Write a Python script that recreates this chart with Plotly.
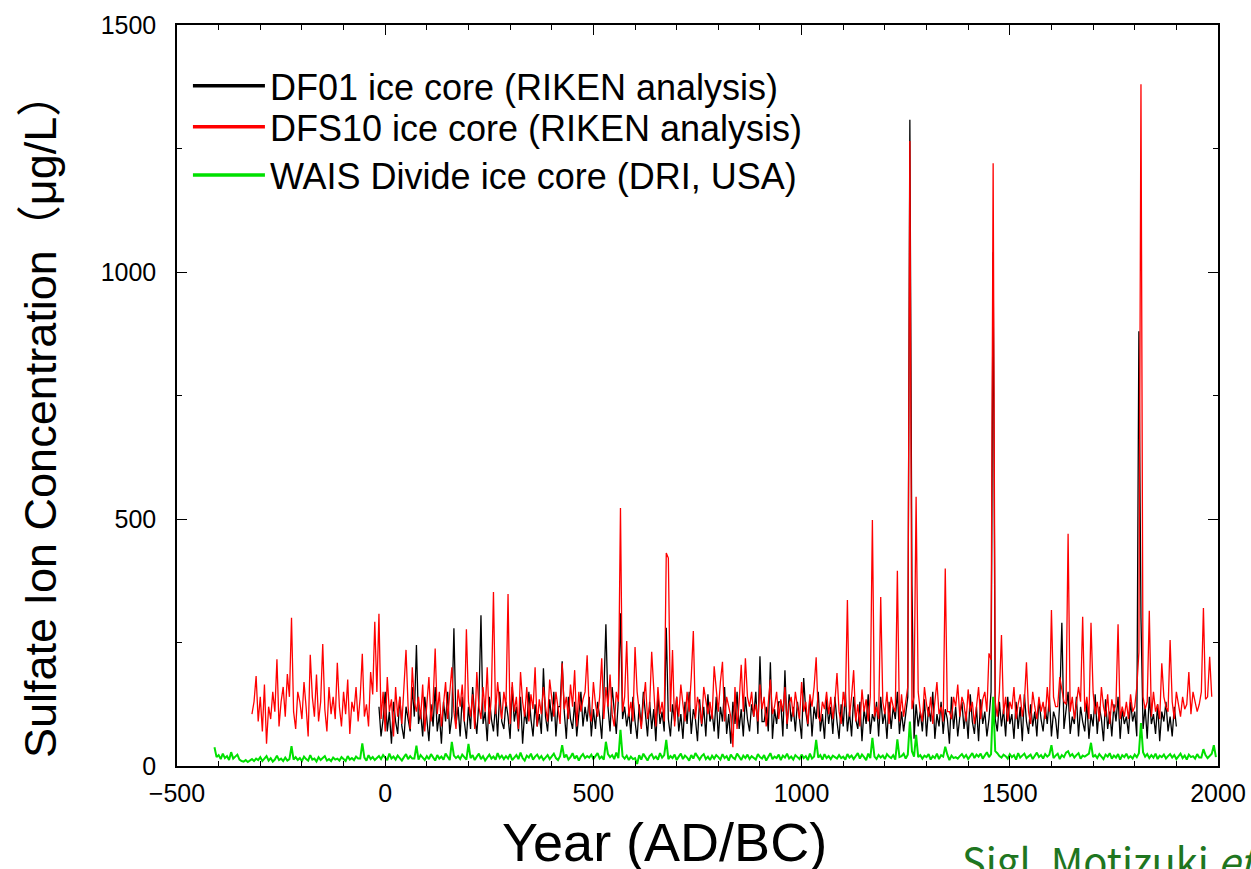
import plotly.graph_objects as go

# ---------------- data ----------------
# DFS10 ice core (RIKEN), 5-year steps starting at -320
dfs10_start = -320
dfs10_vals = [
    105,130,182,90,140,70,165,45,120,95,150,110,216,80,130,160,100,186,140,300,
    110,75,150,130,95,170,120,60,225,140,100,185,90,130,247,115,70,160,105,140,
    95,209,120,80,150,105,175,65,130,110,160,90,140,227,100,125,80,190,145,292,
    150,308,95,150,70,180,110,135,60,160,100,140,85,170,235,120,75,200,130,110,
    140,95,165,70,120,180,90,130,238,105,150,80,125,170,95,140,200,110,75,155,
    120,165,90,277,130,100,145,75,190,120,95,160,110,200,85,140,352,105,170,125,
    95,150,120,348,85,170,110,140,75,190,130,100,160,90,145,115,200,80,135,105,
    160,120,90,175,130,100,150,120,85,208,115,140,95,165,120,194,80,150,110,135,
    150,224,110,90,170,125,100,140,218,95,160,120,185,105,80,150,130,522,110,140,
    253,100,130,90,241,150,110,75,130,170,95,120,231,140,80,160,105,130,90,431,
    421,110,235,80,140,100,165,125,90,150,110,180,273,95,140,120,85,160,130,105,
    130,95,202,150,110,170,211,90,140,120,100,38,160,75,130,205,110,218,140,120,
    150,100,125,90,165,115,140,80,130,175,105,120,150,95,135,110,160,85,125,140,
    100,150,120,95,170,110,130,85,145,120,160,220,100,90,130,115,150,105,140,95,
    130,188,110,85,150,120,336,100,140,194,90,125,80,155,110,135,90,140,498,100,
    120,95,342,130,105,150,85,140,120,110,395,90,145,100,130,160,1265,115,140,545,
    150,110,90,160,125,100,140,85,130,170,105,120,90,400,110,110,95,140,120,165,
    100,140,125,90,155,110,130,85,120,160,95,135,150,110,228,215,1220,130,100,150,
    265,105,140,90,130,115,160,95,125,145,100,130,210,110,85,150,120,95,140,110,
    130,95,160,110,316,140,120,120,180,150,130,125,470,110,140,95,130,160,130,302,
    110,140,95,290,150,105,130,90,160,120,100,145,85,135,110,125,287,95,120,100,
    130,95,145,110,120,160,230,1380,140,115,130,314,100,150,110,125,95,208,140,120,
    110,255,130,95,150,120,100,140,115,125,190,105,150,130,110,125,150,320,135,140,221,140,
]

# DF01 ice core (RIKEN), 5-year steps starting at -15
df01_start = -15
df01_vals = [
    120,60,95,150,70,110,45,130,90,65,140,80,55,120,95,70,160,100,245,85,
    110,60,140,95,50,125,80,160,70,105,45,130,90,150,65,100,279,85,120,60,
    140,90,55,120,75,160,100,65,130,305,85,110,50,140,95,70,125,60,150,90,
    75,130,100,55,160,90,120,70,140,45,110,85,150,95,60,125,80,105,65,198,
    100,70,135,90,150,60,120,120,212,110,55,140,95,75,130,60,105,150,80,120,
    90,140,60,115,75,130,100,55,145,287,120,70,160,110,65,135,309,95,120,80,
    110,65,140,90,55,125,80,150,100,60,130,75,115,50,145,85,110,70,280,95,
    60,125,90,140,70,105,55,130,85,150,65,115,95,50,135,80,120,60,145,90,
    110,70,140,55,120,90,160,65,105,45,130,85,150,75,115,60,140,95,70,125,
    100,150,65,222,90,90,120,70,210,55,115,85,130,130,60,194,75,145,90,120,
    70,130,95,55,178,110,80,140,60,120,95,150,70,105,55,135,85,120,65,140,
    90,55,125,80,150,70,110,60,140,95,75,130,50,115,85,145,65,105,90,130,
    60,140,85,110,55,130,75,120,95,150,65,110,70,100,140,1308,368,55,125,80,
    110,70,135,60,120,90,150,55,105,80,130,65,115,95,45,140,75,120,60,100,
    130,75,110,55,145,90,65,120,50,135,85,110,60,95,150,1040,95,70,130,80,
    115,60,140,85,105,55,130,75,120,50,145,90,65,125,80,110,60,135,95,70,
    120,85,140,60,110,95,55,130,290,75,115,150,65,100,85,140,60,120,90,70,
    130,55,105,80,145,65,120,95,50,135,75,110,60,125,90,140,55,115,85,100,
    65,130,90,110,60,880,300,75,120,55,140,85,105,65,125,50,110,90,130,70,
    100,60,120,80,
]

# WAIS Divide ice core (DRI, USA), 5-year steps starting at -410
wais_start = -410
wais_vals = [
    38,18,22,14,25,16,20,12,28,15,19,23,13,10,9,12,8,11,14,10,
    15,12,18,10,14,20,11,16,9,13,21,12,15,10,17,11,14,40,13,18,
    12,16,10,19,14,11,22,13,15,9,18,12,16,20,11,14,10,17,13,15,
    11,18,14,10,20,13,16,12,19,15,15,46,17,11,22,14,18,12,16,20,
    14,22,17,12,25,15,19,13,21,16,11,18,24,14,20,15,15,41,13,22,
    16,12,20,14,24,18,11,22,15,19,13,25,17,12,49,21,16,20,14,23,
    18,13,45,16,22,12,19,25,14,20,11,17,23,15,19,13,26,16,21,14,
    20,15,24,12,18,22,14,27,16,11,21,17,25,13,19,23,15,20,12,18,
    22,14,19,25,16,12,20,42,17,23,13,18,26,15,21,11,19,24,16,20,
    17,23,14,20,26,15,19,13,49,24,18,22,14,27,16,73,20,15,21,12,
    19,14,16,4,22,13,25,18,11,20,24,15,19,13,26,17,22,53,14,20,
    16,23,12,19,25,14,21,17,11,22,15,26,18,13,20,24,14,19,12,21,
    15,22,18,13,24,16,20,11,23,17,14,25,19,12,21,16,23,14,20,17,
    13,24,18,15,22,11,20,26,14,19,16,23,12,21,17,25,15,19,13,22,
    18,14,23,16,20,12,25,15,19,53,17,22,13,24,16,20,14,21,18,15,
    22,16,19,13,24,17,21,14,20,26,15,23,18,12,25,16,57,19,14,22,
    17,21,14,24,19,16,22,13,54,18,20,25,15,23,90,30,19,63,18,22,
    15,21,18,24,13,20,16,25,14,22,19,39,23,12,21,16,18,15,20,24,
    17,22,14,20,26,16,23,19,25,15,21,28,18,24,140,30,26,20,17,23,
    20,15,24,18,22,13,26,17,21,25,16,19,23,14,20,27,18,22,15,24,
    19,23,42,16,21,25,14,22,18,27,30,20,24,17,22,26,15,21,19,23,
    25,47,18,22,16,24,20,14,23,19,26,15,21,17,24,13,22,18,25,16,
    20,15,23,18,26,87,28,19,24,16,22,17,25,14,21,18,23,15,20,24,
    17,22,14,19,25,16,21,13,23,18,20,15,24,17,17,34,22,16,20,25,
    42,18,
]

series_names = ["DF01 ice core (RIKEN analysis)",
                "DFS10 ice core (RIKEN analysis)",
                "WAIS Divide ice core (DRI, USA)"]
series_colors = ["#000000", "#ff0000", "#00e000"]
series_widths = [1.3, 1.3, 2.0]
x_tickvals = [-500, 0, 500, 1000, 1500, 2000]
y_tickvals = [0, 500, 1000, 1500]
x_title = "Year (AD/BC)"
y_title = "Sulfate Ion Concentration\uff08\u03bcg/L\uff09"
credit = "Sigl, Motizuki <i>et al.</i>"


def years(start, vals, step=5):
    return [start + step * i for i in range(len(vals))]


FONT = "Liberation Sans, Arial, Helvetica, sans-serif"

fig = go.Figure()
data = [(df01_start, df01_vals), (dfs10_start, dfs10_vals), (wais_start, wais_vals)]
for (start, vals), name, col, w in zip(data, series_names, series_colors, series_widths):
    fig.add_trace(go.Scatter(x=years(start, vals), y=vals, mode="lines",
                             line=dict(color=col, width=w), name=name,
                             showlegend=False, hoverinfo="x+y"))

# legend entries (one legend per row, thicker sample lines)
legend_ids = ["legend", "legend2", "legend3"]
legend_rows_y = [0.918, 0.8625, 0.7975]
for name, col, lid in zip(series_names, series_colors, legend_ids):
    fig.add_trace(go.Scatter(x=[None], y=[None], mode="lines",
                             line=dict(color=col, width=3.5), name=name,
                             showlegend=True, legend=lid))

axis_common = dict(showline=True, linecolor="black", linewidth=1.5, mirror="ticks",
                   ticks="inside", ticklen=10, tickwidth=1.2, tickcolor="black",
                   showgrid=False, zeroline=False, automargin=False,
                   tickfont=dict(family=FONT, size=25, color="black"))

fig.update_xaxes(range=[-500, 2000], tickmode="array", tickvals=x_tickvals,
                 minor=dict(dtick=100, tick0=0, ticks="inside", ticklen=5,
                            tickcolor="black", tickwidth=1.2, showgrid=False),
                 ticklabelstandoff=4, **axis_common)
fig.update_yaxes(range=[0, 1500], tickmode="array", tickvals=y_tickvals,
                 minor=dict(dtick=250, tick0=0, ticks="inside", ticklen=5,
                            tickcolor="black", tickwidth=1.2, showgrid=False),
                 ticklabelstandoff=14, **axis_common)

legend_style = dict(xanchor="left", yanchor="middle", bgcolor="rgba(0,0,0,0)",
                    borderwidth=0, itemwidth=72,
                    font=dict(family=FONT, size=36, color="black"))
legends = {lid: dict(x=0.0105, y=ly, **legend_style)
           for lid, ly in zip(legend_ids, legend_rows_y)}

fig.update_layout(
    width=1251, height=869,
    margin=dict(l=177, r=33, t=25, b=103, pad=0, autoexpand=False),
    paper_bgcolor="white", plot_bgcolor="white",
    font=dict(family=FONT, color="black"),
    annotations=[
        dict(text=x_title, xref="paper", yref="paper", x=0.468, y=-0.1026,
             xanchor="center", yanchor="middle", showarrow=False,
             font=dict(family=FONT, size=54, color="black")),
        dict(text=y_title, xref="paper", yref="paper", x=-0.1316, y=0.4736,
             xanchor="center", yanchor="middle", showarrow=False, textangle=-90,
             font=dict(family=FONT + ", Noto Sans CJK JP", size=45, color="black")),
        dict(text=credit, xref="paper", yref="paper", x=0.752, y=-0.085,
             xanchor="left", yanchor="top", showarrow=False,
             font=dict(family="Noto Sans CJK JP", size=40, color="#1f761f")),
    ],
    **legends,
)

fig.write_html("out.html")
